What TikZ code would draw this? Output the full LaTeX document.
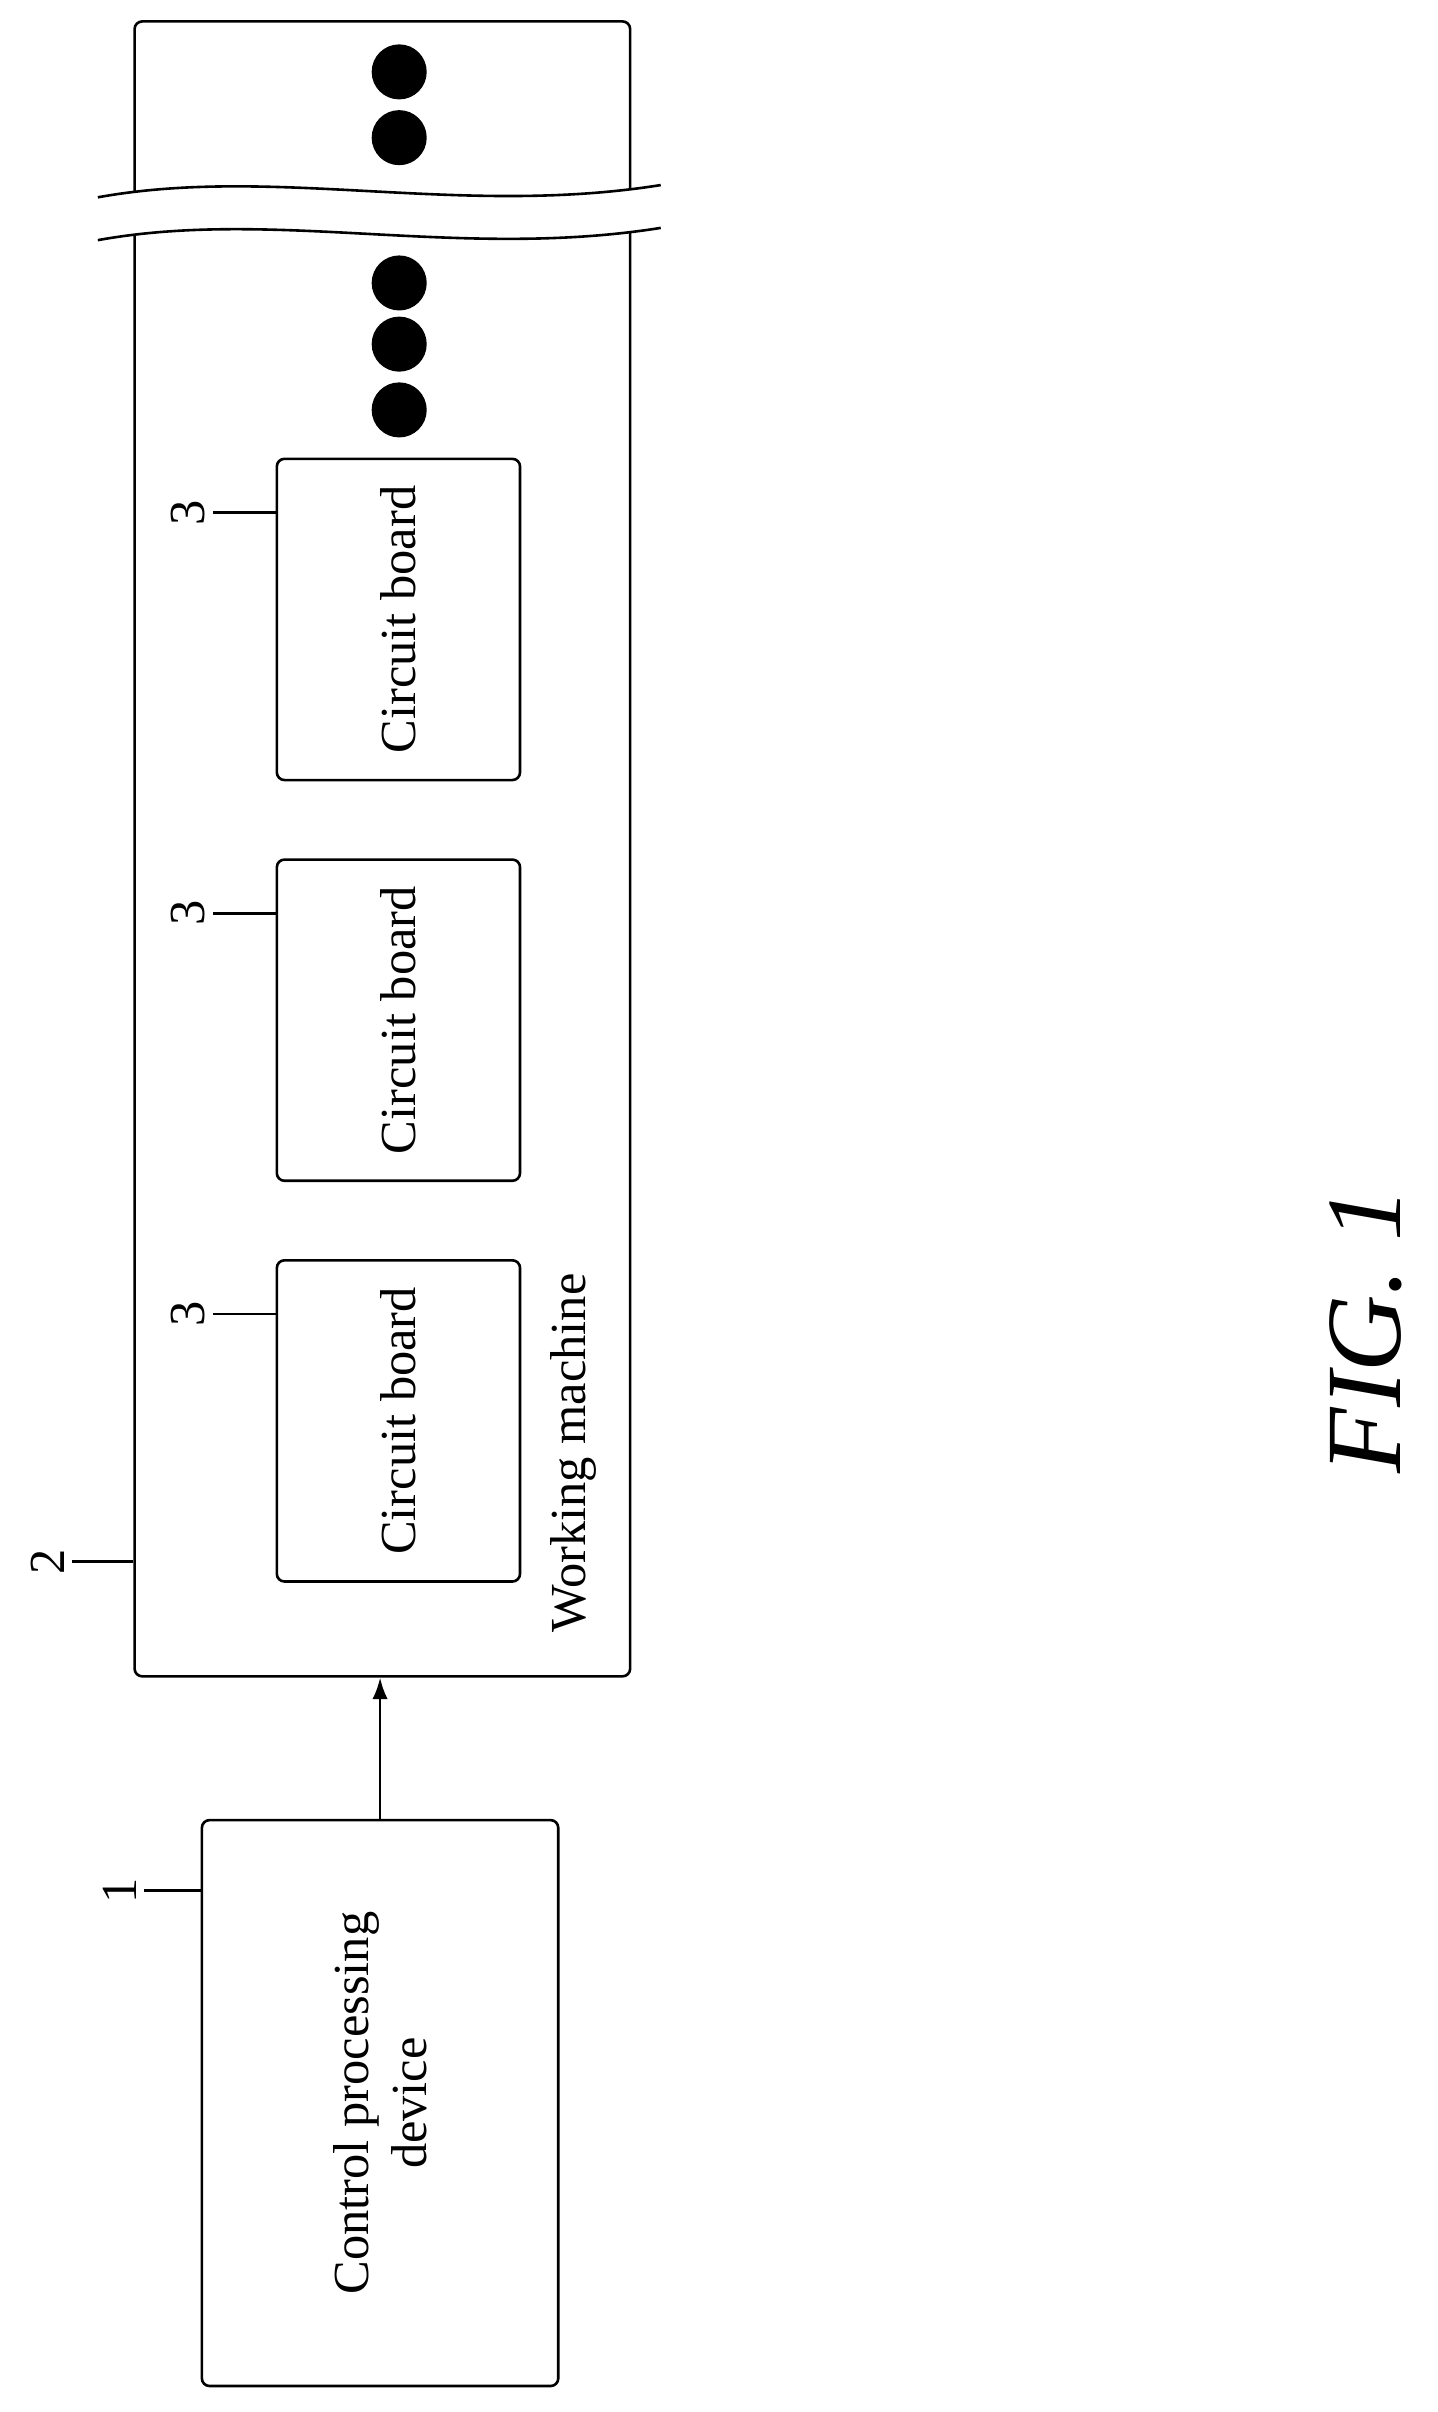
\documentclass[tikz,border=0pt]{standalone}
\usepackage{fontspec}
\setmainfont{Liberation Serif}
\usetikzlibrary{arrows.meta}
\begin{document}
\begin{tikzpicture}
    [x=1pt,y=-1pt,line width=1.7pt,
    box/.style={draw,rounded corners=5pt,inner sep=0pt},
    txt/.style={rotate=90,font=\fontsize{33}{38}\selectfont,align=center},
    refnum/.style={rotate=90,font=\fontsize{33}{38}\selectfont,inner sep=4pt},
    dot/.style={circle,fill=black,minimum size=36pt,inner sep=0pt}]
    \useasboundingbox (0,0) rectangle (940,1577);
    % working machine and control device
    \node[box,minimum width=324pt,minimum height=1082pt] (wm) at (250,555) {};
    \node[box,minimum width=233pt,minimum height=370pt] (ctrl) at (248.5,1375) {};
    \node[txt] at (ctrl.center) {Control processing\\device};
    \node[txt] (wmt) at (375,950) {Working machine};
    \draw[-{Latex[length=14pt,width=10pt]}] (ctrl.north) -- (ctrl.north |- wm.south);
    % circuit boards
    \foreach \n/\y in {a/405,b/667,c/929}{
      \node[box,minimum width=159pt,minimum height=210pt] (cb\n) at (260.5,\y) {};
      \node[txt] at (cb\n.center) {Circuit board};
      \draw (cb\n.north west) ++(0,36) -- ++(-41,0) node[refnum,anchor=south] {3};
    }
    % reference numerals
    \draw (wm.south west) ++(0,-76) -- ++(-40,0) node[refnum,anchor=south] {2};
    \draw (ctrl.north west) ++(0,47) -- ++(-37,0) node[refnum,anchor=south] {1};
    % dots and break
    \foreach \y in {47,90,185,225,268}
      \node[dot] at (261,\y) {};
    \fill[white] (64,129) .. controls (180,108) and (300,142) .. (432,121)
      -- (432,149) .. controls (300,170) and (180,136) .. (64,157) -- cycle;
    \draw (64,129) .. controls (180,108) and (300,142) .. (432,121);
    \draw (64,157) .. controls (180,136) and (300,170) .. (432,149);
    % figure label
    \node[rotate=90,font=\fontsize{70}{80}\selectfont\itshape] (fig) at (893,870) {FIG. 1};
\end{tikzpicture}
\end{document}
